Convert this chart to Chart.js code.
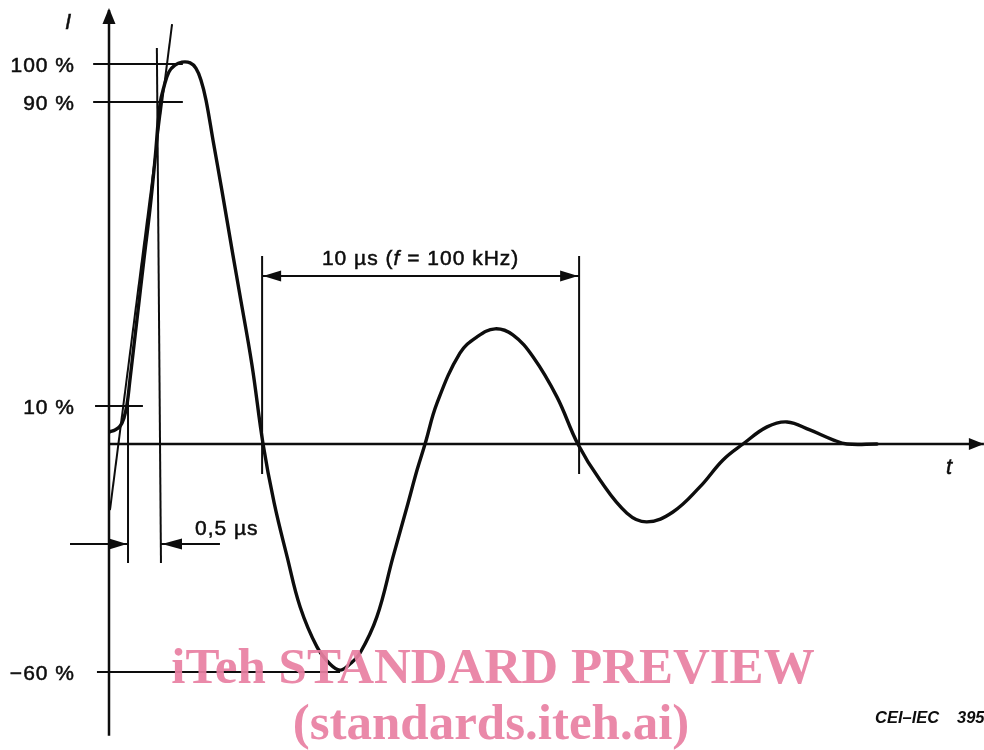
<!DOCTYPE html>
<html><head><meta charset="utf-8">
<script src="https://cdn.jsdelivr.net/npm/chart.js@4"></script>
<style>html,body{margin:0;padding:0;background:#fff;overflow:hidden}canvas{display:block}</style>
</head><body>
<canvas id="c" width="984" height="750"></canvas>
<script>
// Ring wave current: time in µs, current in % of peak value
const curveT = [0.03,0.19,0.35,0.47,0.57,0.66,0.88,1.10,1.29,1.45,1.61,1.74,1.89,2.08,2.30,2.56,2.74,2.90,3.06,3.28,3.56,3.91,4.13,4.51,4.86,5.21,5.62,6.03,6.56,6.97,7.29,7.60,7.92,8.45,8.96,9.40,9.72,9.97,10.35,11.07,11.61,12.18,12.74,13.38,14.13,14.79,15.49,16.34,16.97,17.79,18.64,19.37,20.00,20.76,21.39,22.11,22.84,23.28,24.23];
const curveI = [3.2,3.7,4.7,6.8,10.5,16.8,32.6,48.4,61.6,74.7,89.5,94.2,97.9,99.7,100.5,100.3,98.9,95.8,90.5,80.0,66.8,49.7,39.2,20.8,0,-15.5,-29.7,-42.9,-53.4,-57.9,-59.5,-57.9,-55.0,-45.5,-29.7,-16.6,-6.8,0,10.8,23.9,28.2,30.3,28.7,22.9,12.4,0,-9.5,-18.2,-20.5,-17.9,-11.3,-4.2,0,4.5,5.8,3.7,1.1,0,0];

// straight line through the 10 % and 90 % points
const tangentT = [0.03, 1.99];
const tangentI = [-17.4, 110.5];

// reference levels (y tick labels)
const levelValues = [100, 90, 10, -60];
const levelLabels = ['100 %', '90 %', '10 %', '\u221260 %'];
const levelStartT = [-0.50, -0.50, -0.44, -0.38];
const levelEndT = [2.33, 2.33, 1.07, 7.29];

// period marker (10 µs)
const periodT = [4.83, 14.83];
const periodMarkerI = [49.5, -7.9];
const periodArrowI = 44.2;
const periodLabel = ['10 \u00b5s (', 'f', ' = 100 kHz)'];

// rise-time marker (0,5 µs)
const riseMarkerT = [0.60, 1.51, 1.64];
const riseMarkerI = [12.9, 104.2, -31.3];
const riseArrowI = -26.3;
const riseArrowOuterT = [-1.23, 3.50];
const riseLabel = '0,5 \u00b5s';

// axes
const xAxisEndT = 27.6;
const yAxisI = [-76.8, 114.2];

const pts = (ts, is) => ts.map((t, i) => ({x: t, y: is[i]}));
const INK = '#0d0d0d';
const seg = (data, w) => ({data, borderColor: INK, borderWidth: w, pointRadius: 0, showLine: true, fill: false, tension: 0});

const datasets = [];
datasets.push(seg([{x:0,y:0},{x:xAxisEndT,y:0}], 2.5));
datasets.push(seg([{x:0,y:yAxisI[0]},{x:0,y:yAxisI[1]}], 2.5));
levelValues.forEach((v, i) => datasets.push(seg([{x:levelStartT[i],y:v},{x:levelEndT[i],y:v}], 2)));
datasets.push(seg(pts(tangentT, tangentI), 2));
datasets.push(seg([{x:riseMarkerT[0],y:riseMarkerI[0]},{x:riseMarkerT[0],y:riseMarkerI[2]}], 2));
datasets.push(seg([{x:riseMarkerT[1],y:riseMarkerI[1]},{x:riseMarkerT[2],y:riseMarkerI[2]}], 2));
periodT.forEach(t => datasets.push(seg([{x:t,y:periodMarkerI[0]},{x:t,y:periodMarkerI[1]}], 2)));
datasets.push(seg([{x:periodT[0],y:periodArrowI},{x:periodT[1],y:periodArrowI}], 2));
datasets.push(seg([{x:riseArrowOuterT[0],y:riseArrowI},{x:riseMarkerT[0],y:riseArrowI}], 2));
datasets.push(seg([{x:riseArrowOuterT[1],y:riseArrowI},{x:riseMarkerT[2],y:riseArrowI}], 2));
const curve = seg(pts(curveT, curveI), 3.4);
curve.tension = 0.4;
curve.borderJoinStyle = 'round';
curve.borderCapStyle = 'round';
datasets.push(curve);

function arrow(ctx, tx, ty, dx, dy, len, hw) {
  const bx = tx - dx * len, by = ty - dy * len;
  ctx.beginPath();
  ctx.moveTo(tx, ty);
  ctx.lineTo(bx - dy * hw, by + dx * hw);
  ctx.lineTo(bx + dy * hw, by - dx * hw);
  ctx.closePath();
  ctx.fill();
}

function txt(ctx, s, x, y) {
  ctx.fillText(s, x, y);
  ctx.strokeText(s, x, y);
}

const overlay = {
  id: 'overlay',
  afterDatasetsDraw(chart) {
    const {ctx, scales: {x, y}} = chart;
    const X = v => x.getPixelForValue(v), Y = v => y.getPixelForValue(v);
    ctx.save();
    ctx.fillStyle = INK;
    ctx.strokeStyle = INK;
    ctx.lineWidth = 0.5;
    arrow(ctx, X(0), Y(yAxisI[1]) - 2, 0, -1, 16, 6.5);
    arrow(ctx, X(xAxisEndT), Y(0), 1, 0, 15, 6);
    arrow(ctx, X(periodT[0]) + 1, Y(periodArrowI), -1, 0, 18, 5.5);
    arrow(ctx, X(periodT[1]) - 1, Y(periodArrowI), 1, 0, 18, 5.5);
    arrow(ctx, X(riseMarkerT[0]) - 1, Y(riseArrowI), 1, 0, 18, 5.5);
    arrow(ctx, X(riseMarkerT[2]) + 1, Y(riseArrowI), -1, 0, 20, 5.5);

    ctx.font = '21px "Liberation Sans", Arial, sans-serif';
    ctx.letterSpacing = '1px';
    ctx.textBaseline = 'middle';
    ctx.textAlign = 'right';
    levelLabels.forEach((s, i) => txt(ctx, s, 75, Y(levelValues[i]) + 2));

    ctx.textAlign = 'left';
    ctx.textBaseline = 'alphabetic';
    txt(ctx, riseLabel, X(riseMarkerT[2]) + 34, Y(riseArrowI) - 9);

    // period label with italic f
    const fUp = '21px "Liberation Sans", Arial, sans-serif';
    const fIt = 'italic 21px "Liberation Sans", Arial, sans-serif';
    const fonts = [fUp, fIt, fUp];
    const widths = periodLabel.map((s, i) => { ctx.font = fonts[i]; return ctx.measureText(s).width; });
    let cx = (X(periodT[0]) + X(periodT[1])) / 2 - widths.reduce((a, b) => a + b, 0) / 2;
    periodLabel.forEach((s, i) => { ctx.font = fonts[i]; txt(ctx, s, cx, Y(periodArrowI) - 11); cx += widths[i]; });

    ctx.letterSpacing = '0px';
    ctx.font = 'italic 22px "Liberation Sans", Arial, sans-serif';
    ctx.textAlign = 'center';
    txt(ctx, 'I', 68, 29);
    txt(ctx, 't', 949, 474);

    ctx.textAlign = 'left';
    ctx.font = 'italic bold 16.5px "Liberation Sans", Arial, sans-serif';
    ctx.fillText('CEI\u2013IEC', 875, 723);
    ctx.fillText('395/9', 957, 723);

    // watermark
    ctx.fillStyle = 'rgba(232,128,162,0.93)';
    ctx.textAlign = 'center';
    ctx.font = 'bold 51px "Liberation Serif", "Times New Roman", serif';
    ctx.fillText('iTeh STANDARD PREVIEW', 493, 683);
    ctx.fillText('(standards.iteh.ai)', 491, 739);
    ctx.restore();
  }
};

new Chart(document.getElementById('c'), {
  type: 'scatter',
  data: {datasets},
  options: {
    responsive: false,
    animation: false,
    events: [],
    layout: {padding: 0},
    plugins: {legend: {display: false}, tooltip: {enabled: false}},
    scales: {
      x: {type: 'linear', display: false, min: -3.4385, max: 27.603},
      y: {type: 'linear', display: false, min: -80.53, max: 116.84}
    }
  },
  plugins: [overlay]
});
</script>
</body></html>
